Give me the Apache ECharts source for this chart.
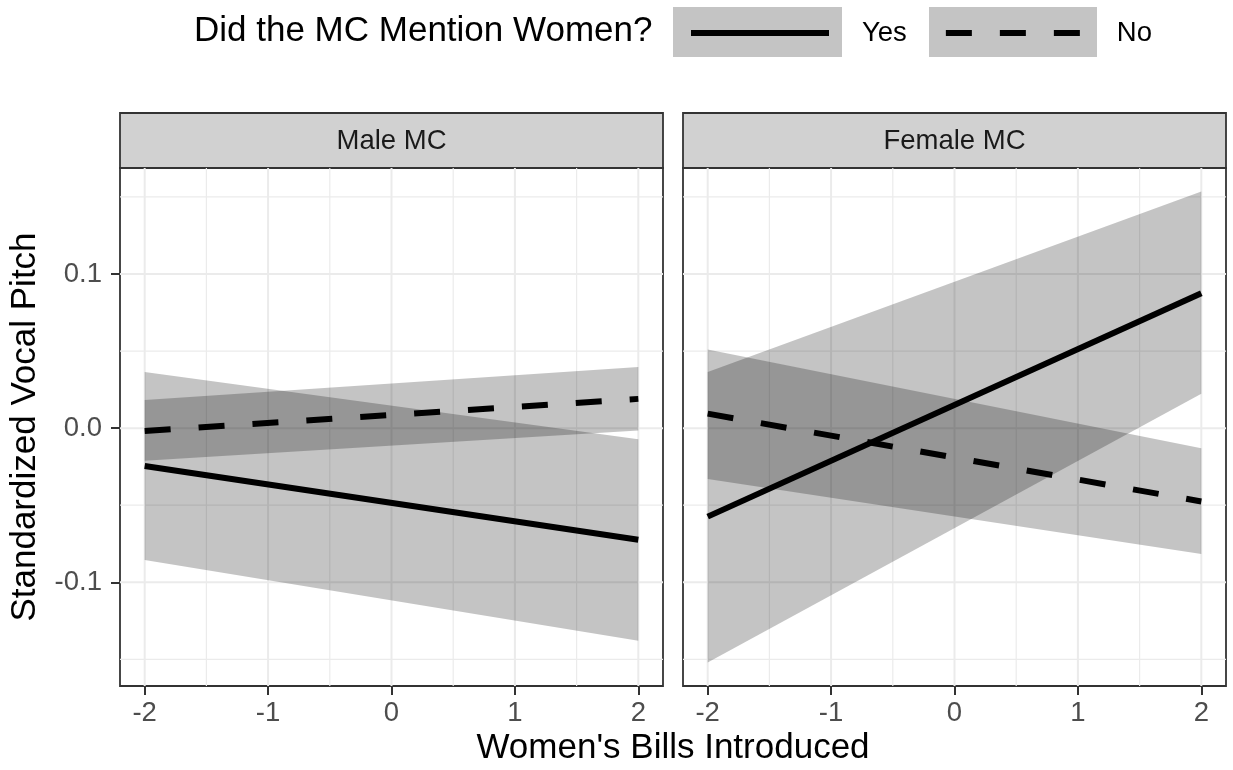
<!DOCTYPE html>
<html>
<head>
<meta charset="utf-8">
<title>Standardized Vocal Pitch by Women's Bills Introduced</title>
<script src="https://cdn.jsdelivr.net/npm/echarts@6/dist/echarts.min.js"></script>
<style>
  html, body { margin: 0; padding: 0; background: #fff; }
  #chart { width: 1233px; height: 770px; }
</style>
</head>
<body>
<div id="chart"></div>
<script>
// Predicted vocal pitch (with confidence bands) across women's bills introduced,
// faceted by MC gender and split by whether the MC mentioned women.
const bills = [-2, 2];
const panels = ['Male MC', 'Female MC'];

// Male MC
const maleYes   = [-0.0246, -0.0724];
const maleYesLo = [-0.0856, -0.1379];
const maleYesHi = [ 0.0364, -0.0072];
const maleNo    = [-0.0018,  0.0190];
const maleNoLo  = [-0.0212, -0.0016];
const maleNoHi  = [ 0.0183,  0.0396];

// Female MC
const femaleYes   = [-0.0574,  0.0876];
const femaleYesLo = [-0.1520,  0.0223];
const femaleYesHi = [ 0.0364,  0.1535];
const femaleNo    = [ 0.0094, -0.0476];
const femaleNoLo  = [-0.0330, -0.0816];
const femaleNoHi  = [ 0.0510, -0.0130];

// Axis breaks
const xTicks = [-2, -1, 0, 1, 2];
const xMinor = [-1.5, -0.5, 0.5, 1.5];
const yTicks = [-0.1, 0, 0.1];
const yMinor = [-0.15, -0.05, 0.05, 0.15];

const FONT = "'Liberation Sans', Arial, Helvetica, sans-serif";
const X_MIN = -2.2, X_MAX = 2.2;
const Y_MIN = -0.1673, Y_MAX = 0.1688;

const GRID_TOP = 168, GRID_H = 518, GRID_W = 543;
const GRID_LEFT = [120, 683];
const STRIP_H = 55;

const chart = echarts.init(document.getElementById('chart'), null, { renderer: 'canvas' });

// Panel gridlines drawn through the axis scales
function gridSeries(idx) {
  const rows = [];
  xTicks.forEach(v => rows.push([v, 0, 0, 1]));
  xMinor.forEach(v => rows.push([v, 0, 0, 0]));
  yTicks.forEach(v => rows.push([0, v, 1, 1]));
  yMinor.forEach(v => rows.push([0, v, 1, 0]));
  return {
    type: 'custom',
    name: 'grid' + idx,
    xAxisIndex: idx,
    yAxisIndex: idx,
    silent: true,
    z: 1,
    data: rows,
    renderItem(params, api) {
      const cs = params.coordSys;
      const p = api.coord([api.value(0), api.value(1)]);
      const horiz = api.value(2) === 1;
      const major = api.value(3) === 1;
      const shape = horiz
        ? { x1: cs.x, y1: p[1], x2: cs.x + cs.width, y2: p[1] }
        : { x1: p[0], y1: cs.y, x2: p[0], y2: cs.y + cs.height };
      return {
        type: 'line',
        shape,
        style: { stroke: '#ebebeb', lineWidth: major ? 2 : 1.2 }
      };
    }
  };
}

// Confidence band between lower and upper bounds
function bandSeries(idx, name, lo, hi) {
  const rows = bills.map((b, i) => [b, lo[i], hi[i]]);
  return {
    type: 'custom',
    name,
    xAxisIndex: idx,
    yAxisIndex: idx,
    silent: true,
    z: 2,
    encode: { x: 0, y: [1, 2] },
    data: rows,
    renderItem(params, api) {
      const i = params.dataIndex;
      if (i >= rows.length - 1) return null;
      const a = rows[i], b = rows[i + 1];
      const pts = [
        api.coord([a[0], a[1]]),
        api.coord([b[0], b[1]]),
        api.coord([b[0], b[2]]),
        api.coord([a[0], a[2]])
      ];
      return {
        type: 'polygon',
        shape: { points: pts },
        style: { fill: 'rgba(0,0,0,0.23)' }
      };
    }
  };
}

function lineSeries(idx, name, vals, dashed) {
  return {
    type: 'line',
    name,
    xAxisIndex: idx,
    yAxisIndex: idx,
    data: bills.map((b, i) => [b, vals[i]]),
    symbol: 'none',
    silent: true,
    z: 3,
    itemStyle: { color: '#000' },
    lineStyle: { color: '#000', width: 6, type: dashed ? [26, 28] : 'solid', cap: 'butt' },
    emphasis: { disabled: true }
  };
}

const series = [
  gridSeries(0),
  gridSeries(1),
  bandSeries(0, 'Yes band', maleYesLo, maleYesHi),
  bandSeries(0, 'No band', maleNoLo, maleNoHi),
  bandSeries(1, 'Yes band', femaleYesLo, femaleYesHi),
  bandSeries(1, 'No band', femaleNoLo, femaleNoHi),
  lineSeries(0, 'Yes', maleYes, false),
  lineSeries(0, 'No', maleNo, true),
  lineSeries(1, 'Yes', femaleYes, false),
  lineSeries(1, 'No', femaleNo, true)
];

const graphics = [
  {
    type: 'text',
    style: {
      text: 'Did the MC Mention Women?',
      x: 194, y: 31,
      fontSize: 35, fontFamily: FONT, fill: '#000',
      align: 'left', verticalAlign: 'middle'
    }
  },
  // legend key backgrounds
  { type: 'rect', z: -1, shape: { x: 673, y: 7, width: 169, height: 50 }, style: { fill: '#c4c4c4' } },
  { type: 'rect', z: -1, shape: { x: 929, y: 7, width: 168, height: 50 }, style: { fill: '#c4c4c4' } },
  {
    type: 'text',
    style: {
      text: "Women's Bills Introduced",
      x: (GRID_LEFT[0] + GRID_LEFT[1] + GRID_W) / 2, y: 748,
      fontSize: 35, fontFamily: FONT, fill: '#000',
      align: 'center', verticalAlign: 'middle'
    }
  }
];

panels.forEach((label, i) => {
  graphics.push({
    type: 'rect',
    shape: { x: GRID_LEFT[i], y: GRID_TOP - STRIP_H, width: GRID_W, height: STRIP_H },
    style: { fill: '#d1d1d1', stroke: '#333', lineWidth: 1.8 }
  });
  graphics.push({
    type: 'text',
    style: {
      text: label,
      x: GRID_LEFT[i] + GRID_W / 2, y: GRID_TOP - STRIP_H / 2 + 1,
      fontSize: 27.5, fontFamily: FONT, fill: '#1a1a1a',
      align: 'center', verticalAlign: 'middle'
    }
  });
});

const option = {
  animation: false,
  backgroundColor: '#fff',
  textStyle: { fontFamily: FONT },
  legend: {
    left: 688,
    top: 17,
    padding: 0,
    itemWidth: 138,
    itemHeight: 40,
    itemGap: 36,
    selectedMode: false,
    itemStyle: { opacity: 0, borderWidth: 0 },
    textStyle: { fontSize: 27.5, fontFamily: FONT, color: '#000', padding: [0, 0, 0, 28] },
    lineStyle: { width: 6 },
    data: [
      { name: 'Yes', lineStyle: { type: 'solid', width: 6, color: '#000' } },
      { name: 'No', lineStyle: { type: [26, 28], width: 6, color: '#000' } }
    ]
  },
  grid: GRID_LEFT.map(left => ({
    left, top: GRID_TOP, width: GRID_W, height: GRID_H,
    show: true, backgroundColor: '#fff', borderColor: '#333', borderWidth: 1.8,
    containLabel: false
  })),
  xAxis: [0, 1].map(i => ({
    type: 'value',
    gridIndex: i,
    min: X_MIN, max: X_MAX,
    splitLine: { show: false },
    axisLine: { show: false, onZero: false },
    axisTick: { show: true, length: 9, lineStyle: { color: '#333', width: 2 }, customValues: xTicks },
    axisLabel: {
      customValues: xTicks, color: '#4d4d4d', fontSize: 27.5, fontFamily: FONT, margin: 13,
      formatter: v => String(v)
    }
  })),
  yAxis: [0, 1].map(i => ({
    type: 'value',
    gridIndex: i,
    min: Y_MIN, max: Y_MAX,
    splitLine: { show: false },
    axisLine: { show: false, onZero: false },
    axisTick: { show: i === 0, length: 9, lineStyle: { color: '#333', width: 2 }, customValues: yTicks },
    axisLabel: {
      show: i === 0, customValues: yTicks, color: '#4d4d4d', fontSize: 27.5, fontFamily: FONT, margin: 18,
      formatter: v => v.toFixed(1)
    },
    name: i === 0 ? 'Standardized Vocal Pitch' : '',
    nameLocation: 'middle',
    nameGap: 77,
    nameTextStyle: { fontSize: 35, fontFamily: FONT, color: '#000' }
  })),
  graphic: graphics,
  series
};

chart.setOption(option);
</script>
</body>
</html>
